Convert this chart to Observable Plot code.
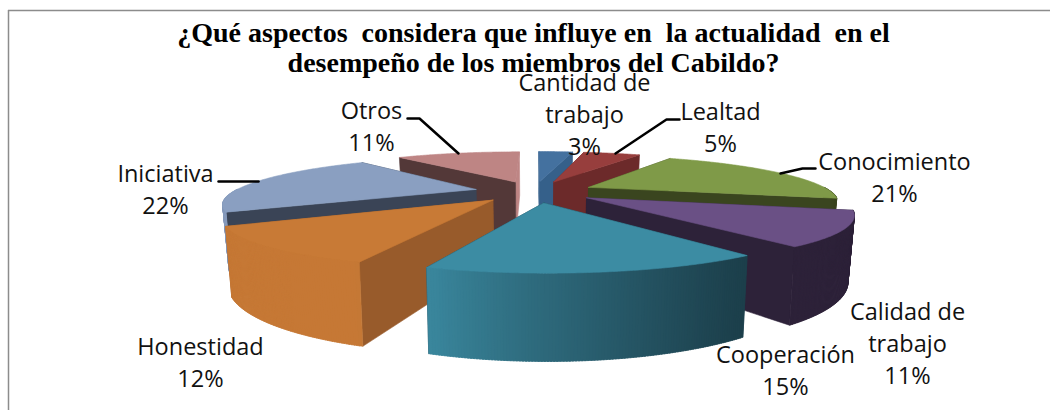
<!DOCTYPE html>
<html><head><meta charset="utf-8">
<style>html,body{margin:0;padding:0;background:#fff}svg{display:block;white-space:pre}</style>
<script src="https://cdn.jsdelivr.net/npm/d3@7"></script>
<script src="https://cdn.jsdelivr.net/npm/@observablehq/plot@0.6"></script>
</head><body><div id="chart"></div>
<script>
const categories = ["Cantidad de trabajo","Lealtad","Conocimiento","Calidad de trabajo","Cooperación","Honestidad","Iniciativa","Otros"];
// shares behind the rounded percent labels
const values = [3,5,21,11,15.45,11.7,22,10.85];
const topColors = ["#44719f","#973e3d","#7f9a48","#6a5085","#3c8ca3","#c87a36","#8a9fc1","#be8584"];
const wallColors = ["#35608a","#6c2a2a","#3a451f","#2d2239","#1c3f4b","#985b2b","#3a4456","#533838"];
const titleLines = ["¿Qué aspectos  considera que influye en  la actualidad  en el","desempeño de los miembros del Cabildo?"];

// label layout, kept apart from the data
const labelLayout = [
  {lines:["Cantidad de","trabajo","3%"],x:584,y:83},
  {lines:["Lealtad","5%"],x:720,y:112},
  {lines:["Conocimiento","21%"],x:894,y:162},
  {lines:["Calidad de","trabajo","11%"],x:907,y:312},
  {lines:["Cooperación","15%"],x:785,y:355},
  {lines:["Honestidad","12%"],x:200,y:347},
  {lines:["Iniciativa","22%"],x:165,y:174},
  {lines:["Otros","11%"],x:371,y:111}
];
const leaders = [
  [[679,119],[666,119],[615,153]],
  [[815,168],[802,168],[780,173]],
  [[218,181],[258,181]],
  [[407,118],[419,118],[458,153]]
];

// perspective of the exploded pie
const cx=534, cy=191, f=242, g=43, k=0.275, explode=0.25, H=58, baseShrink=0.98;
const rad=d=>d*Math.PI/180;
const project=(u,v,low=false)=>{
  const d=1-k*v;
  const x=cx+f*u/d, y=cy+g*v/d;
  return low?[cx+(x-cx)*baseShrink,y+H/d]:[x,y];
};
const total=d3.sum(values);
let acc=0;
const slices=values.map((val,i)=>{
  const a0=acc/total*360; acc+=val; const a1=acc/total*360;
  const mid=rad((a0+a1)/2);
  return {i,a0,a1,ax:explode*Math.sin(mid),av:-explode*Math.cos(mid),depth:-Math.cos(mid)};
}).sort((a,b)=>a.depth-b.depth);

const polys=[];
let pid=0;
const addPoly=(pts,color)=>{const id=pid++;[...pts,pts[0]].forEach(p=>polys.push({id,x:p[0],y:p[1],color}));};
const gp=(s,a)=>[s.ax+Math.sin(rad(a)),s.av-Math.cos(rad(a))];
const lightAt=a=>{ // outer wall brightness by direction
  if(a<144) return 0; if(a>250) return .95;
  return Math.min(.95,Math.pow((a-144)/(200-144),1.3)*.95);
};
for(const s of slices){
  const topC=topColors[s.i], wallC=wallColors[s.i];
  const walls=[];
  const radial=(a,color)=>{
    const p=gp(s,a);
    walls.push({v:(p[1]+s.av)/2,color,pts:[project(s.ax,s.av),project(p[0],p[1]),project(p[0],p[1],true),project(s.ax,s.av,true)]});
  };
  radial(s.a0,wallC);
  radial(s.a1,s.a1>=360?topC:wallC);
  const n=Math.max(2,Math.ceil((s.a1-s.a0)/0.5));
  for(let j=0;j<n;j++){
    const b0=s.a0+(s.a1-s.a0)*j/n,b1=Math.min(s.a1,s.a0+(s.a1-s.a0)*(j+1.6)/n);
    const p0=gp(s,b0),p1=gp(s,b1);
    const m=s.a0+(s.a1-s.a0)*(j+.5)/n;
    if(-Math.cos(rad(m))<0) continue; // far side never shows
    walls.push({v:(p0[1]+p1[1])/2,color:d3.interpolateRgb(wallC,topC)(lightAt(m)),
      pts:[project(p0[0],p0[1]),project(p1[0],p1[1]),project(p1[0],p1[1],true),project(p0[0],p0[1],true)]});
  }
  walls.sort((a,b)=>a.v-b.v).forEach(w=>addPoly(w.pts,w.color));
  const top=[project(s.ax,s.av)];
  for(let j=0;j<=n;j++){const p=gp(s,s.a0+(s.a1-s.a0)*j/n);top.push(project(p[0],p[1]));}
  addPoly(top,topC);
}

const labelRows=labelLayout.flatMap(l=>l.lines.map((t,j)=>({t,x:l.x,y:l.y+j*32})));
const leaderRows=leaders.flatMap((l,id)=>l.map(p=>({id,x:p[0],y:p[1]})));

const plot=Plot.plot({
  width:1050,height:410,margin:0,
  x:{domain:[0,1050],range:[0,1050],axis:null},
  y:{domain:[0,410],range:[0,410],axis:null},
  color:{type:"identity"},
  style:{background:"#fff"},
  marks:[
    Plot.ruleX([8],{y1:10,y2:410,stroke:"#8c8c8c",strokeWidth:1.5}),
    Plot.ruleY([10],{x1:8,x2:1050,stroke:"#8c8c8c",strokeWidth:1.5}),
    Plot.line(polys,{x:"x",y:"y",z:"id",fill:"color",stroke:"color",strokeWidth:0.6,curve:"linear"}),
    Plot.line(leaderRows,{x:"x",y:"y",z:"id",stroke:"#000",strokeWidth:2.5,curve:"linear"}),
    Plot.text(titleLines,{x:()=>533,y:(d,i)=>33+i*30,text:d=>d,fontFamily:"Liberation Serif",fontWeight:"bold",fontSize:28,fill:"#000"}),
    Plot.text(labelRows,{x:"x",y:"y",text:"t",fontFamily:"Open Sans",fontSize:23.5,fill:"#111"})
  ]
});
document.getElementById("chart").appendChild(plot);
</script></body></html>
